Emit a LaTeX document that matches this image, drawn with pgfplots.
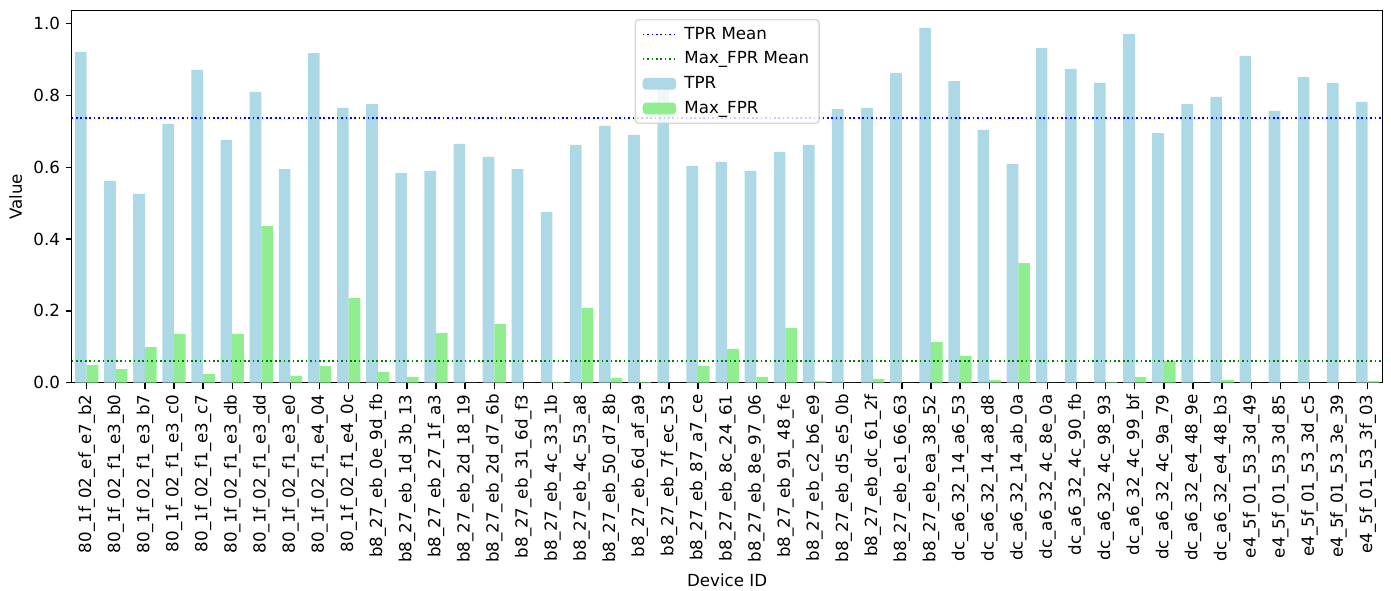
\documentclass[border=0pt]{standalone}
\usepackage{fontspec}
\setmainfont{DejaVu Sans}
\usepackage{pgfplots}
\usepackage{pgfplotstable}
\pgfplotsset{compat=1.18}
\definecolor{tprc}{RGB}{173,216,230}
\definecolor{fprc}{RGB}{144,238,144}
\definecolor{mgreen}{RGB}{0,128,0}
\pgfplotstableread{
idx tpr fpr
0 0.921 0.049
1 0.562 0.038
2 0.526 0.099
3 0.720 0.136
4 0.871 0.024
5 0.676 0.136
6 0.810 0.436
7 0.595 0.019
8 0.918 0.046
9 0.765 0.236
10 0.776 0.030
11 0.584 0.016
12 0.590 0.138
13 0.665 0.000
14 0.629 0.163
15 0.595 0.000
16 0.475 0.002
17 0.662 0.208
18 0.715 0.013
19 0.690 0.002
20 0.821 0.000
21 0.604 0.046
22 0.615 0.094
23 0.590 0.016
24 0.643 0.152
25 0.662 0.005
26 0.762 0.000
27 0.765 0.010
28 0.863 0.000
29 0.988 0.113
30 0.840 0.074
31 0.704 0.007
32 0.609 0.333
33 0.932 0.000
34 0.874 0.000
35 0.835 0.002
36 0.971 0.016
37 0.695 0.060
38 0.776 0.000
39 0.796 0.007
40 0.910 0.000
41 0.757 0.000
42 0.851 0.000
43 0.835 0.000
44 0.782 0.005
}\datatable
\begin{document}
\begin{tikzpicture}
\useasboundingbox (-43.0pt,-124.4pt) rectangle (791.6pt,229.6pt);
\begin{axis}[
  at={(0,0)}, anchor=south west,
  scale only axis, width=786.6pt, height=223.2pt,
  xmin=-0.515, xmax=44.515, ymin=0, ymax=1.036,
  xtick={0,...,44},
  xticklabels={80\_1f\_02\_ef\_e7\_b2,80\_1f\_02\_f1\_e3\_b0,80\_1f\_02\_f1\_e3\_b7,80\_1f\_02\_f1\_e3\_c0,80\_1f\_02\_f1\_e3\_c7,80\_1f\_02\_f1\_e3\_db,80\_1f\_02\_f1\_e3\_dd,80\_1f\_02\_f1\_e3\_e0,80\_1f\_02\_f1\_e4\_04,80\_1f\_02\_f1\_e4\_0c,b8\_27\_eb\_0e\_9d\_fb,b8\_27\_eb\_1d\_3b\_13,b8\_27\_eb\_27\_1f\_a3,b8\_27\_eb\_2d\_18\_19,b8\_27\_eb\_2d\_d7\_6b,b8\_27\_eb\_31\_6d\_f3,b8\_27\_eb\_4c\_33\_1b,b8\_27\_eb\_4c\_53\_a8,b8\_27\_eb\_50\_d7\_8b,b8\_27\_eb\_6d\_af\_a9,b8\_27\_eb\_7f\_ec\_53,b8\_27\_eb\_87\_a7\_ce,b8\_27\_eb\_8c\_24\_61,b8\_27\_eb\_8e\_97\_06,b8\_27\_eb\_91\_48\_fe,b8\_27\_eb\_c2\_b6\_e9,b8\_27\_eb\_d5\_e5\_0b,b8\_27\_eb\_dc\_61\_2f,b8\_27\_eb\_e1\_66\_63,b8\_27\_eb\_ea\_38\_52,dc\_a6\_32\_14\_a6\_53,dc\_a6\_32\_14\_a8\_d8,dc\_a6\_32\_14\_ab\_0a,dc\_a6\_32\_4c\_8e\_0a,dc\_a6\_32\_4c\_90\_fb,dc\_a6\_32\_4c\_98\_93,dc\_a6\_32\_4c\_99\_bf,dc\_a6\_32\_4c\_9a\_79,dc\_a6\_32\_e4\_48\_9e,dc\_a6\_32\_e4\_48\_b3,e4\_5f\_01\_53\_3d\_49,e4\_5f\_01\_53\_3d\_85,e4\_5f\_01\_53\_3d\_c5,e4\_5f\_01\_53\_3e\_39,e4\_5f\_01\_53\_3f\_03},
  x tick label style={rotate=90, anchor=east},
  ytick={0,0.2,0.4,0.6,0.8,1.0},
  y tick label style={/pgf/number format/.cd, fixed, fixed zerofill, precision=1},
  /pgf/number format/assume math mode=true,
  tick align=outside, tick pos=left, major tick length=3.5pt,
  every tick/.style={black, line width=0.8pt},
  axis line style={line width=0.8pt},
  xlabel={Device ID}, ylabel={Value},
  legend cell align=left,
  legend style={at={(0.5,1)}, anchor=north, yshift=-5pt, draw=black!20, line width=0.8pt,
    rounded corners=2pt, fill=white, fill opacity=0.8, draw opacity=0.8, text opacity=1,
    inner xsep=4pt, inner ysep=2.5pt, row sep=2pt, column sep=2.5pt},
]
\addlegendimage{legend image code/.code={\draw[blue, draw opacity=1, line width=1pt, dash pattern=on 1pt off 1.65pt] (0pt,0pt) -- (20pt,0pt);}}
\addlegendentry{TPR Mean}
\addlegendimage{legend image code/.code={\draw[mgreen, draw opacity=1, line width=1pt, dash pattern=on 1pt off 1.65pt] (0pt,0pt) -- (20pt,0pt);}}
\addlegendentry{Max\_FPR Mean}
\addplot[ybar, bar width=0.4, bar shift=-0.2, fill=tprc, draw=none,
  legend image code/.code={\fill[tprc, fill opacity=1] (0pt,-3.5pt) rectangle (20pt,3.5pt);}] table[x=idx, y=tpr] {\datatable};
\addlegendentry{TPR}
\addplot[ybar, bar width=0.4, bar shift=0.2, fill=fprc, draw=none,
  legend image code/.code={\fill[fprc, fill opacity=1] (0pt,-3.5pt) rectangle (20pt,3.5pt);}] table[x=idx, y=fpr] {\datatable};
\addlegendentry{Max\_FPR}
\addplot[forget plot, blue, line width=1pt, dash pattern=on 1pt off 1.65pt] coordinates {(-0.515,0.738) (44.515,0.738)};
\addplot[forget plot, mgreen, line width=1pt, dash pattern=on 1pt off 1.65pt] coordinates {(-0.515,0.0607) (44.515,0.0607)};
\end{axis}
\end{tikzpicture}
\end{document}
